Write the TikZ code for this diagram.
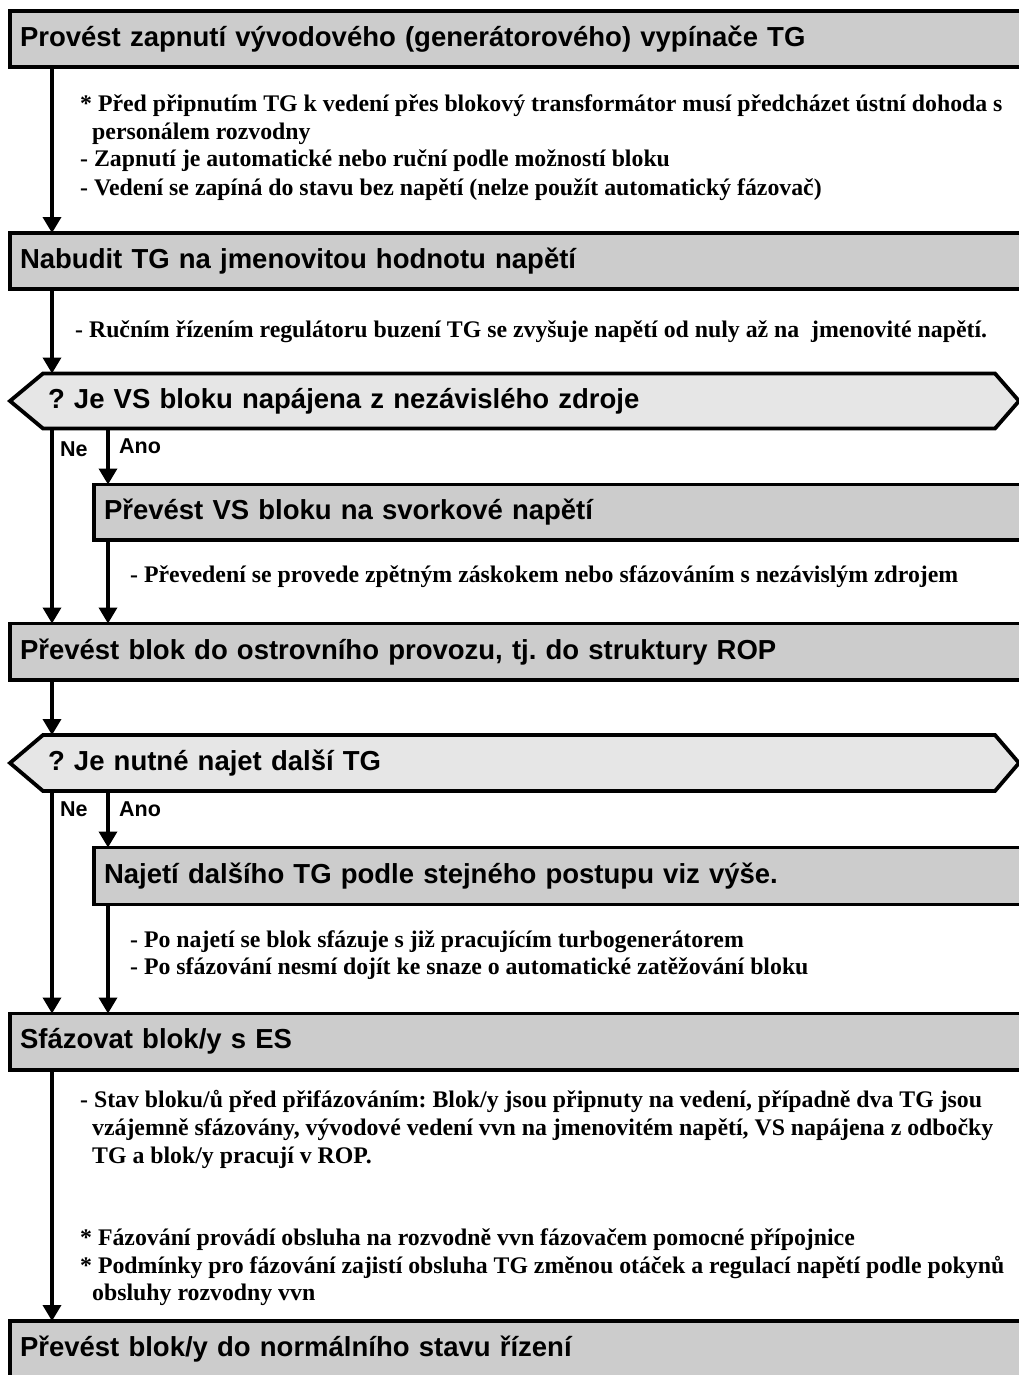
\documentclass[tikz,border=0pt]{standalone}
\usepackage{fontspec}
\setmainfont{Liberation Serif}
\newfontfamily\titlefont{Liberation Sans}
\usetikzlibrary{arrows.meta,calc}
\definecolor{boxgray}{HTML}{CCCCCC}
\definecolor{decgray}{HTML}{E6E6E6}
\frenchspacing
\begin{document}
\begin{tikzpicture}[x=1pt,y=-1pt,
  box/.style={draw, line width=3.8pt, fill=boxgray, anchor=north west, outer sep=0pt,
    inner ysep=0pt, inner xsep=10pt, text width=1100pt, align=left,
    font=\titlefont\bfseries\fontsize{27.5}{32}\selectfont},
  dectext/.style={anchor=north west, outer sep=0pt, inner ysep=0pt, inner xsep=5pt,
    text width=942pt, align=left, font=\titlefont\bfseries\fontsize{27.5}{32}\selectfont},
  note/.style={anchor=base west, inner sep=0pt, font=\bfseries\fontsize{23.8}{28}\selectfont},
  yn/.style={anchor=base west, inner sep=0pt, font=\titlefont\bfseries\fontsize{21.5}{24}\selectfont},
  conn/.style={line width=3.5pt, -{Triangle[length=16pt,width=18pt]}},
  decline/.style={line width=3.8pt, line join=miter}]
\useasboundingbox (0,0) rectangle (1019,1375);
\clip (0,0) rectangle (1019,1375);
\coordinate (L) at (52,0);
\coordinate (R) at (108,0);

% boxes
\node[box, minimum height=56pt] (b1) at (10,11) {Provést zapnutí vývodového (generátorového) vypínače TG};
\node[box, minimum height=56pt] (b2) at (10,233) {Nabudit TG na jmenovitou hodnotu napětí};
\node[box, minimum height=55.5pt] (b3) at (94,484.5) {Převést VS bloku na svorkové napětí};
\node[box, minimum height=56.5pt] (b4) at (10,623.5) {Převést blok do ostrovního provozu, tj. do struktury ROP};
\node[box, minimum height=57pt] (b5) at (94,847.5) {Najetí dalšího TG podle stejného postupu viz výše.};
\node[box, minimum height=56.5pt] (b6) at (10,1013.5) {Sfázovat blok/y s ES};
\node[box, minimum height=56pt] (b7) at (10,1321) {Převést blok/y do normálního stavu řízení};

% decisions: outline first, then text node on top
\coordinate (d1nw) at (43,373.5);
\coordinate (d2nw) at (43,735);
\path (d1nw) node[dectext, minimum height=55pt] (d1) {\phantom{X}};
\path (d2nw) node[dectext, minimum height=56pt] (d2) {\phantom{X}};
\foreach \d in {d1,d2} {
  \filldraw[decline, fill=decgray] (\d.north west) -- (\d.north east) -- ($(\d.east)+(24,0)$) -- (\d.south east) -- (\d.south west) -- ($(\d.west)+(-33,0)$) -- cycle;
}
\node[dectext, minimum height=55pt] (d1t) at (d1nw) {? Je VS bloku napájena z nezávislého zdroje};
\node[dectext, minimum height=56pt] (d2t) at (d2nw) {? Je nutné najet další TG};

% connectors
\draw[conn] (b1.south -| L) -- (b2.north -| L);
\draw[conn] (b2.south -| L) -- (d1.north -| L);
\draw[conn] (d1.south -| L) -- (b4.north -| L);
\draw[conn] (d1.south -| R) -- (b3.north -| R);
\draw[conn] (b3.south -| R) -- (b4.north -| R);
\draw[conn] (b4.south -| L) -- (d2.north -| L);
\draw[conn] (d2.south -| L) -- (b6.north -| L);
\draw[conn] (d2.south -| R) -- (b5.north -| R);
\draw[conn] (b5.south -| R) -- (b6.north -| R);
\draw[conn] (b6.south -| L) -- (b7.north -| L);

% yes / no labels
\node[yn] (ne1) at (60,456) {Ne};
\node[yn] (ano1) at (119,453) {Ano};
\node[yn] (ne2) at (60,816) {Ne};
\node[yn] (ano2) at (119,816) {Ano};

% notes
\node[note] (n1a) at (80,112) {* Před připnutím TG k vedení přes blokový transformátor musí předcházet ústní dohoda s};
\node[note] (n1b) at (92,139.5) {personálem rozvodny};
\node[note] (n1c) at (80,167) {- Zapnutí je automatické nebo ruční podle možností bloku};
\node[note] (n1d) at (80,196) {- Vedení se zapíná do stavu bez napětí (nelze použít automatický fázovač)};
\node[note] (n2a) at (75,337) {- Ručním řízením regulátoru buzení TG se zvyšuje napětí od nuly až na\ \ jmenovité napětí.};
\node[note] (n3a) at (130,582) {- Převedení se provede zpětným záskokem nebo sfázováním s nezávislým zdrojem};
\node[note] (n5a) at (130,947) {- Po najetí se blok sfázuje s již pracujícím turbogenerátorem};
\node[note] (n5b) at (130,974) {- Po sfázování nesmí dojít ke snaze o automatické zatěžování bloku};
\node[note] (n6a) at (80,1107) {- Stav bloku/ů před přifázováním: Blok/y jsou připnuty na vedení, případně dva TG jsou};
\node[note] (n6b) at (92,1135) {vzájemně sfázovány, vývodové vedení vvn na jmenovitém napětí, VS napájena z odbočky};
\node[note] (n6c) at (92,1163) {TG a blok/y pracují v ROP.};
\node[note] (n6d) at (80,1245) {* Fázování provádí obsluha na rozvodně vvn fázovačem pomocné přípojnice};
\node[note] (n6e) at (80,1273) {* Podmínky pro fázování zajistí obsluha TG změnou otáček a regulací napětí podle pokynů};
\node[note] (n6f) at (92,1300) {obsluhy rozvodny vvn};
\end{tikzpicture}
\end{document}
